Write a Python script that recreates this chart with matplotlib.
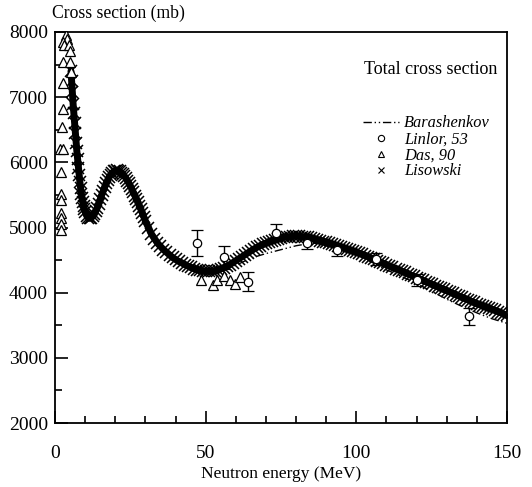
import numpy as np
import matplotlib
matplotlib.use("Agg")
import matplotlib.pyplot as plt
from matplotlib.ticker import MultipleLocator
from matplotlib.lines import Line2D

plt.rcParams['font.family'] = ['Liberation Serif', 'DejaVu Serif']

# Lisowski: total cross section (mb) vs neutron energy (MeV)
lis_e = [5.3, 5.5, 5.75, 6.0, 6.25, 6.5, 6.75, 7.0, 7.25, 7.5, 7.75, 8.0, 8.25, 8.5,
         8.75, 9.0, 9.25, 9.5, 9.75, 10.0, 10.5, 11.0, 11.5, 12.0, 12.5, 13.0, 13.5,
         14, 14.5, 15, 15.5, 16, 16.5, 17, 17.5, 18, 18.5, 19, 19.5, 20, 20.5, 21,
         21.5, 22, 22.5, 23, 23.5, 24, 24.5, 25, 25.5, 26, 26.5, 27, 27.5, 28, 28.5,
         29, 29.5, 30, 31, 32, 33, 34, 35, 36, 37, 38, 39, 40, 41, 42, 43, 44, 45,
         46, 47, 48, 49, 50, 51, 52, 53, 54, 55, 56, 57, 58, 59, 60, 61, 62, 63, 64,
         65, 66, 67, 68, 69, 70, 71, 72, 73, 74, 75, 76, 77, 78, 79, 80, 81, 82, 83,
         84, 85, 86, 87, 88, 89, 90, 91, 92, 93, 94, 95, 96, 97, 98, 99, 100, 101,
         102, 103, 104, 105, 106, 107, 108, 109, 110, 111, 112, 113, 114, 115, 116,
         117, 118, 119, 120, 121, 122, 123, 124, 125, 126, 127, 128, 129, 130, 131,
         132, 133, 134, 135, 136, 137, 138, 139, 140, 141, 142, 143, 144, 145, 146,
         147, 148, 149, 150]
lis_sig = [7400, 7250, 7080, 6900, 6750, 6600, 6450, 6300, 6170, 6050, 5920, 5800,
           5700, 5600, 5520, 5450, 5390, 5330, 5280, 5240, 5180, 5150, 5140, 5150,
           5170, 5200, 5250, 5300, 5360, 5430, 5500, 5560, 5620, 5680, 5730, 5780,
           5810, 5840, 5860, 5870, 5875, 5870, 5860, 5840, 5820, 5790, 5760, 5720,
           5680, 5640, 5590, 5540, 5490, 5440, 5390, 5330, 5280, 5220, 5160, 5100,
           5000, 4900, 4830, 4760, 4710, 4660, 4620, 4580, 4540, 4510, 4480, 4460,
           4430, 4410, 4390, 4370, 4355, 4345, 4335, 4330, 4328, 4330, 4338, 4350,
           4365, 4380, 4405, 4430, 4460, 4490, 4520, 4550, 4580, 4610, 4640, 4670,
           4695, 4720, 4740, 4760, 4780, 4800, 4815, 4830, 4840, 4850, 4855, 4860,
           4862, 4865, 4863, 4860, 4855, 4850, 4840, 4830, 4815, 4800, 4785, 4770,
           4755, 4740, 4725, 4710, 4695, 4680, 4665, 4650, 4635, 4620, 4605, 4590,
           4570, 4550, 4530, 4510, 4490, 4470, 4450, 4430, 4410, 4390, 4370, 4350,
           4330, 4310, 4290, 4270, 4250, 4230, 4210, 4190, 4170, 4150, 4130, 4110,
           4090, 4070, 4050, 4030, 4010, 3990, 3970, 3950, 3930, 3910, 3890, 3870,
           3850, 3830, 3815, 3800, 3780, 3760, 3745, 3730, 3710, 3690, 3670, 3650]

# Barashenkov calculation
bar_e = [5, 8, 11, 15, 20, 25, 30, 35, 40, 45, 50, 55, 60, 65, 70, 75, 80, 85, 90,
         95, 100, 105, 110, 115, 120, 125, 130, 135, 140, 145, 150]
bar_sig = [7300, 5750, 5150, 5420, 5850, 5630, 5080, 4700, 4500, 4390, 4320, 4340,
           4420, 4530, 4600, 4660, 4720, 4760, 4750, 4700, 4590, 4470, 4350, 4250,
           4140, 4020, 3900, 3790, 3690, 3600, 3530]

# Linlor, 53 (with errors)
lin_e = [47.0, 56.1, 64.2, 73.3, 83.7, 93.7, 106.6, 120.0, 137.5]
lin_sig = [4765, 4540, 4170, 4920, 4765, 4650, 4520, 4190, 3640]
lin_err = [200, 170, 140, 130, 100, 90, 90, 90, 130]

# Das, 90
das_e = [3.65, 4.1, 2.75, 3.0, 4.8, 5.0, 2.75, 5.0, 5.3, 2.75, 2.75, 2.4, 1.7,
         2.75, 2.0, 1.9, 1.9, 1.9, 1.9, 1.9, 1.9,
         48.5, 52.3, 53.7, 56.0, 58.1, 59.7, 61.3]
das_sig = [7950, 7900, 7850, 7800, 7800, 7710, 7540, 7540, 7390, 7220, 6820, 6540,
           6210, 6210, 5850, 5520, 5420, 5220, 5140, 5060, 4960,
           4195, 4115, 4200, 4260, 4200, 4130, 4240]

fig = plt.figure(figsize=(5.32, 4.87), dpi=100)
ax = fig.add_axes([0.1034, 0.1314, 0.8496, 0.8029])

# dense Lisowski points: solid core plus x markers around it
ax.plot(lis_e, lis_sig, color='black', lw=5, solid_capstyle='round', zorder=3)
ax.plot(lis_e, lis_sig, linestyle='none', marker='x', ms=8, mew=1.1,
        color='black', zorder=3)
ax.plot(bar_e, bar_sig, color='black', lw=1.0, dashes=[6, 2, 1, 2, 1, 2], zorder=2)
ax.errorbar(lin_e, lin_sig, yerr=lin_err, fmt='o', ms=6, mfc='white', mec='black',
            mew=0.9, ecolor='black', elinewidth=1.0, capsize=4, capthick=1.0,
            zorder=4)
ax.plot(das_e, das_sig, linestyle='none', marker='^', ms=6.5, mfc='white',
        mec='black', mew=0.9, zorder=4)

ax.set_xlim(0, 150)
ax.set_ylim(2000, 8000)
ax.xaxis.set_major_locator(MultipleLocator(50))
ax.xaxis.set_minor_locator(MultipleLocator(10))
ax.yaxis.set_major_locator(MultipleLocator(1000))
ax.yaxis.set_minor_locator(MultipleLocator(500))
ax.tick_params(which='both', direction='in', top=False, right=False,
               labelsize=14, width=1.2)
ax.tick_params(which='major', length=9)
ax.tick_params(which='minor', length=5)
ax.tick_params(axis='y', which='major', pad=5)
ax.tick_params(axis='x', which='major', pad=16)
for sp in ax.spines.values():
    sp.set_linewidth(1.3)

ax.set_xlabel('Neutron energy (MeV)', fontsize=12.5, labelpad=3)
fig.text(0.098, 0.973, 'Cross section (mb)', fontsize=12.7, va='center', ha='left')
ax.text(0.978, 0.905, 'Total cross section', transform=ax.transAxes,
        fontsize=13, ha='right', va='center')

# legend entries drawn with plain markers (no error bars)
handles = [
    Line2D([], [], color='black', lw=1.0, dashes=[6, 2, 1, 2, 1, 2]),
    Line2D([], [], ls='none', marker='o', ms=4.5, mfc='white', mec='black', mew=0.8),
    Line2D([], [], ls='none', marker='^', ms=4.5, mfc='white', mec='black', mew=0.8),
    Line2D([], [], ls='none', marker='x', ms=4.5, color='black', mew=0.8),
]
labels = ['Barashenkov', 'Linlor, 53', 'Das, 90', 'Lisowski']
ax.legend(handles, labels, loc='upper left', bbox_to_anchor=(0.663, 0.808),
          frameon=False, prop={'style': 'italic', 'size': 11.8},
          handlelength=2.2, handletextpad=0.3, labelspacing=0.0, borderpad=0)

fig.savefig('out.png', dpi=100)
